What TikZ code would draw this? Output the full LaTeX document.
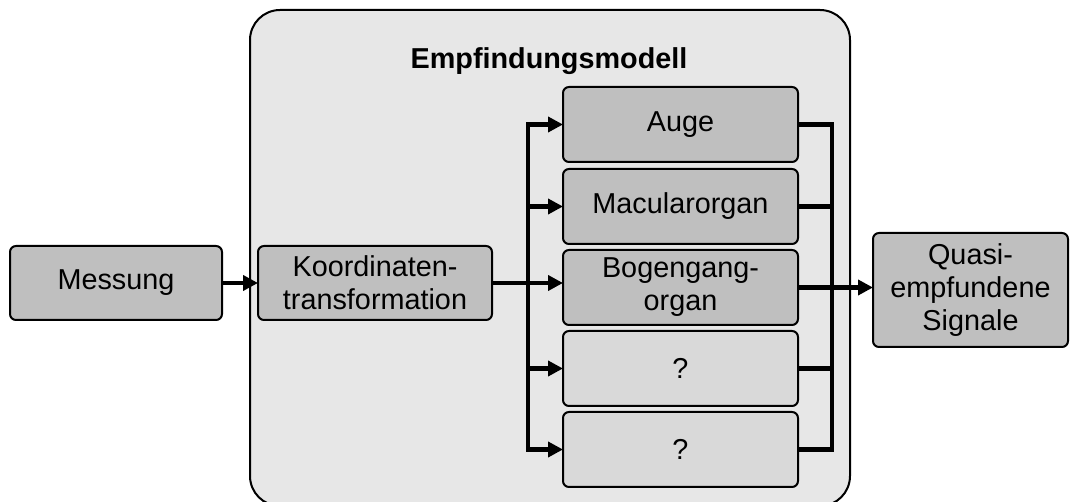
\documentclass[tikz,border=0pt]{standalone}
\usepackage{fontspec}
\setmainfont{Liberation Sans}
\usetikzlibrary{arrows.meta,calc}

\definecolor{boxgray}{HTML}{BFBFBF}
\definecolor{qgray}{HTML}{D9D9D9}
\definecolor{modgray}{HTML}{E7E7E7}

\tikzset{
  blk/.style={draw, line width=1pt, rounded corners=3pt, fill=boxgray,
    minimum width=117.5pt, minimum height=37.5pt, align=center,
    inner sep=0pt, outer sep=0pt, font=\fontsize{14.4}{16.5}\selectfont},
  qblk/.style={blk, fill=qgray},
  arr/.style={line width=2.3pt, -{Triangle[length=7.5pt,width=7.5pt]}},
  bus/.style={line width=2.3pt, line cap=rect},
}

\begin{document}
\begin{tikzpicture}[x=0.5pt,y=-0.5pt]
		\useasboundingbox (0,0) rectangle (1073,502);
		\clip (0,0) rectangle (1073,502);
		
		% Draw the model frame
		\draw[line width=1pt, fill=modgray, rounded corners=15pt] (250,10) rectangle (850,506);
		\node[anchor=base, font=\bfseries\fontsize{14.4}{16.5}\selectfont] (title) at (549,69) {Empfindungsmodell};
		
		% Draw the nodes
		\node[blk, minimum width=106pt, minimum height=37pt] (mess) at (116,283) {Messung};
		\node[blk, minimum width=117pt, minimum height=37pt] (koord) at (375,283) {Koordinaten-\\transformation};
		\node[blk] (auge) at (680.5,124.5) {Auge};
		\node[blk] (macu) at (680.5,206.5) {Macularorgan};
		\node[blk] (bogen) at (680.5,287.5) {Bogengang-\\organ};
		\node[qblk] (q1) at (680.5,368.5) {?};
		\node[qblk] (q2) at (680.5,449.5) {?};
		\node[blk, minimum width=97.5pt, minimum height=57pt] (quasi) at (970.5,290) {Quasi-\\empfundene\\Signale};
		
		% Define the coordinates for the buses
		\coordinate (lb) at (528,0);
		\coordinate (rb) at (832,0);
		
		% Draw the input side
		\draw[arr] (mess) -- (koord);
		\draw[arr] (koord.east) -- (koord.east -| bogen.west);
		\draw[bus] (lb |- auge) -- (lb |- q2);
		\foreach \n in {auge,macu,q1,q2}
			\draw[arr] (lb |- \n) -- (\n.west);
		
		% Draw the output side
		\foreach \n in {auge,macu,bogen,q1,q2}
			\draw[line width=2.3pt] (\n.east) -- (rb |- \n);
		\draw[bus] (rb |- auge) -- (rb |- q2);
		\draw[arr] (bogen.east) -- (bogen.east -| quasi.west);
		
	\end{tikzpicture}
\end{document}
